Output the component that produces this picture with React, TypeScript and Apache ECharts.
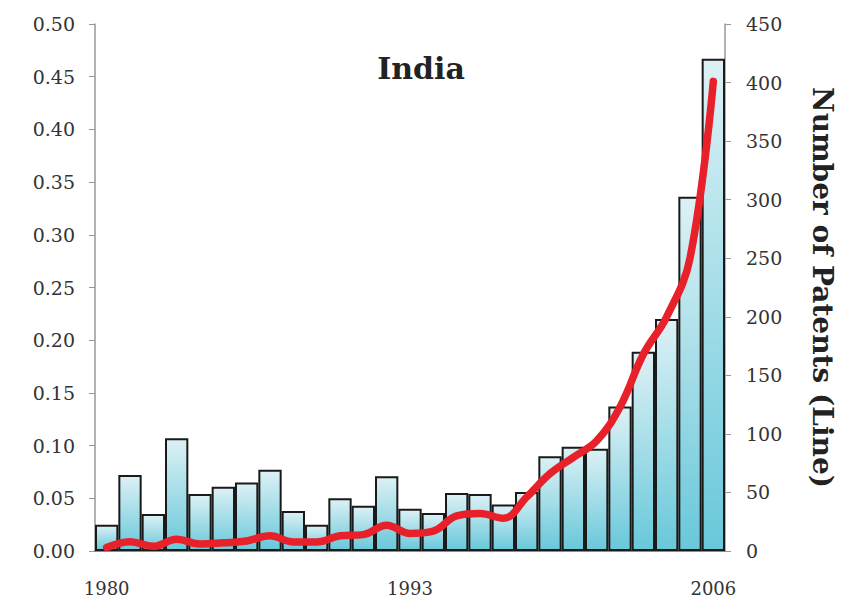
import React, { useEffect, useRef } from "react";
import * as echarts from "echarts";

const years = [
  "1980","1981","1982","1983","1984","1985","1986","1987","1988","1989",
  "1990","1991","1992","1993","1994","1995","1996","1997","1998","1999",
  "2000","2001","2002","2003","2004","2005","2006",
];
const barShare = [
  0.025, 0.072, 0.035, 0.107, 0.054, 0.061, 0.065, 0.077, 0.038, 0.025,
  0.050, 0.043, 0.071, 0.040, 0.036, 0.055, 0.054, 0.044, 0.056, 0.090,
  0.099, 0.097, 0.137, 0.189, 0.220, 0.336, 0.467,
];
const patents = [
  3, 8, 4, 10, 6, 7, 8.5, 13, 7.7, 7.7,
  13, 14, 22, 15, 17, 30, 32, 28, 46, 66,
  80, 94, 123, 168, 200, 250, 401,
];
const shownYears = ["1980", "1993", "2006"];
const title = "India";
const rightAxisName = "Number of Patents (Line)";

const FONT = "DejaVu Serif";

export default function App() {
  const ref = useRef<HTMLDivElement>(null);
  useEffect(() => {
    const chart = echarts.init(ref.current!, null, { renderer: "svg" });
    chart.setOption({
      animation: false,
      backgroundColor: "#ffffff",
      title: {
        text: title,
        left: 416,
        top: 48,
        textAlign: "center",
        textStyle: { fontFamily: FONT, fontSize: 30, fontWeight: "bold", color: "#222" },
      },
      grid: { left: 95, right: 125, top: 24, bottom: 54 },
      xAxis: {
        type: "category",
        data: years,
        axisLine: { lineStyle: { color: "#666", width: 1.5 } },
        axisTick: { show: false },
        axisLabel: {
          interval: 0,
          formatter: (v: string) => (shownYears.includes(v) ? v : ""),
          margin: 28,
          fontFamily: FONT,
          fontSize: 18,
          color: "#333",
        },
      },
      yAxis: [
        {
          type: "value",
          min: 0,
          max: 0.5,
          interval: 0.05,
          position: "left",
          axisLine: { show: true, lineStyle: { color: "#999", width: 1.5 } },
          axisTick: { show: true, length: 6, lineStyle: { color: "#999" } },
          splitLine: { show: false },
          axisLabel: {
            margin: 20,
            fontFamily: FONT,
            fontSize: 19,
            color: "#333",
            formatter: (v: number) => v.toFixed(2),
          },
        },
        {
          type: "value",
          min: 0,
          max: 450,
          interval: 50,
          position: "right",
          name: rightAxisName,
          nameLocation: "middle",
          nameRotate: -90,
          nameGap: 83,
          nameTextStyle: { fontFamily: FONT, fontSize: 28, fontWeight: "bold", color: "#222" },
          axisLine: { show: true, lineStyle: { color: "#999", width: 1.5 } },
          axisTick: { show: true, length: 6, lineStyle: { color: "#999" } },
          splitLine: { show: false },
          axisLabel: {
            margin: 21,
            fontFamily: FONT,
            fontSize: 19,
            color: "#333",
          },
        },
      ],
      series: [
        {
          type: "bar",
          data: barShare,
          yAxisIndex: 0,
          barCategoryGap: "0%",
          itemStyle: {
            borderColor: "#1a1a1a",
            borderWidth: 2,
            color: new echarts.graphic.LinearGradient(0, 0, 0, 1, [
              { offset: 0, color: "#ddf1f5" },
              { offset: 1, color: "#68c8da" },
            ]),
          },
        },
        {
          type: "line",
          data: patents,
          yAxisIndex: 1,
          smooth: 0.4,
          symbol: "none",
          lineStyle: { color: "#e8202a", width: 7.5, cap: "round" },
        },
      ],
    });
    return () => chart.dispose();
  }, []);
  return <div ref={ref} style={{ width: 850, height: 605, position: "absolute", left: 0, top: 0 }} />;
}
